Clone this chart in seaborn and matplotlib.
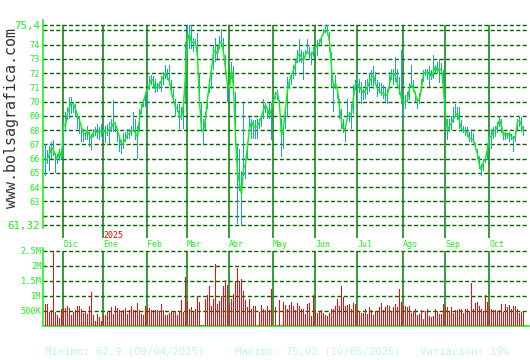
import matplotlib
matplotlib.use("Agg")
import matplotlib.pyplot as plt
import numpy as np
import pandas as pd
import seaborn as sns

# ---------------- data ----------------
close = [
    65.8, 66.0, 66.3, 66.8, 66.6, 66.2, 66.0, 66.5, 66.1, 68.4,
    68.3, 69.2, 69.6, 69.9, 69.8, 69.5, 69.0, 68.7, 68.2, 67.8,
    67.7, 68.0, 67.6, 67.4, 67.9, 67.9, 67.8, 68.0, 67.8, 68.0,
    67.8, 67.9, 68.1, 68.2, 68.5, 68.4, 68.0, 67.5, 67.0, 67.1,
    67.4, 67.7, 67.8, 67.9, 68.0, 67.8, 67.5, 68.8, 69.5, 70.0,
    70.5, 70.8, 71.2, 71.6, 71.4, 70.9, 71.1, 71.2, 71.5, 71.8,
    72.0, 71.7, 71.4, 70.6, 70.1, 69.6, 69.5, 69.0, 68.9, 69.8,
    71.9, 74.3, 74.8, 74.1, 74.2, 74.1, 73.2, 70.0, 68.1, 67.9,
    68.8, 70.2, 71.3, 72.3, 73.5, 73.6, 73.3, 74.1, 74.2, 73.5,
    72.3, 71.2, 70.9, 72.3, 71.0, 67.5, 65.0, 64.3, 63.5, 65.3,
    65.6, 66.9, 68.1, 68.6, 68.3, 68.2, 68.3, 68.6, 69.0, 69.4,
    69.8, 69.5, 69.0, 69.5, 70.0, 70.5, 70.6, 69.8, 67.6, 68.3,
    69.5, 70.8, 71.5, 71.9, 72.2, 72.6, 73.2, 73.4, 73.1, 72.9,
    73.3, 73.5, 73.3, 73.3, 73.5, 73.8, 74.0, 74.1, 74.5, 74.8,
    75.02, 74.9, 74.2, 72.4, 71.0, 71.3, 70.8, 69.6, 68.6, 68.0,
    68.2, 68.9, 69.1, 69.2, 70.3, 71.2, 71.3, 71.0, 70.8, 70.6,
    70.8, 71.0, 71.4, 71.7, 71.8, 71.3, 70.9, 70.7, 70.6, 70.6,
    70.4, 70.5, 71.2, 71.9, 72.0, 71.8, 71.2, 70.8, 70.2, 69.9,
    70.0, 70.1, 71.0, 71.2, 70.9, 70.5, 70.0, 70.2, 70.9, 72.0,
    72.1, 72.0, 72.1, 71.7, 72.1, 72.5, 72.1, 72.3, 72.2, 70.9,
    69.0, 68.0, 68.3, 68.5, 68.8, 69.0, 69.2, 68.6, 68.1, 68.0,
    67.9, 67.8, 67.4, 67.4, 67.3, 66.8, 66.3, 65.5, 65.2, 65.8,
    66.0, 66.7, 67.5, 67.6, 67.9, 68.0, 68.3, 68.7, 68.3, 67.6,
    67.8, 67.6, 67.8, 67.5, 67.4, 67.6, 68.6, 68.7, 68.3, 68.0,
]
high = [
    67.0, 66.6, 66.9, 67.2, 67.3, 66.4, 66.3, 66.7, 66.6, 68.7,
    69.3, 69.6, 70.3, 70.3, 70.0, 69.8, 69.1, 69.0, 68.2, 68.1,
    67.9, 68.3, 67.9, 67.7, 68.1, 68.2, 68.4, 68.2, 68.4, 68.1,
    68.3, 68.4, 68.6, 68.8, 70.1, 68.6, 68.1, 67.6, 67.3, 67.8,
    67.9, 68.1, 68.1, 68.3, 69.3, 68.8, 68.3, 69.5, 69.8, 70.2,
    70.7, 70.9, 71.8, 71.9, 71.8, 71.6, 71.3, 71.4, 71.8, 72.1,
    72.6, 72.3, 72.6, 71.5, 70.9, 70.2, 69.8, 69.8, 69.6, 70.2,
    74.2, 75.4, 75.4, 75.4, 74.5, 74.4, 74.8, 72.0, 70.0, 68.8,
    69.3, 70.4, 71.6, 72.6, 74.0, 74.5, 73.9, 74.6, 75.1, 74.5,
    73.3, 71.3, 71.2, 72.8, 72.5, 70.7, 67.0, 66.7, 65.1, 69.9,
    66.0, 67.2, 68.9, 68.8, 68.7, 68.7, 68.8, 68.8, 69.0, 70.2,
    69.9, 69.5, 69.9, 69.9, 70.5, 70.7, 70.8, 70.1, 68.8, 68.6,
    69.7, 71.7, 71.6, 72.0, 72.6, 72.9, 73.6, 74.4, 73.6, 73.5,
    73.6, 74.4, 73.8, 73.5, 73.8, 73.9, 74.3, 74.4, 74.6, 75.1,
    75.4, 75.4, 74.9, 73.5, 71.2, 71.9, 70.9, 70.2, 69.5, 68.8,
    68.3, 70.2, 69.3, 69.8, 71.2, 71.5, 72.1, 71.6, 71.4, 70.9,
    71.5, 71.6, 72.0, 72.2, 72.5, 72.1, 71.5, 71.4, 71.3, 71.2,
    71.0, 70.9, 72.1, 72.3, 72.3, 73.1, 72.3, 71.7, 73.6, 70.5,
    70.5, 70.7, 71.3, 72.6, 71.5, 70.7, 70.2, 70.6, 71.6, 72.2,
    72.3, 72.3, 72.5, 72.2, 73.3, 72.6, 72.8, 73.0, 72.7, 72.2,
    70.2, 68.8, 68.8, 69.0, 69.6, 69.8, 69.6, 69.6, 68.7, 68.3,
    68.2, 68.2, 67.9, 68.1, 67.8, 67.1, 66.7, 66.2, 65.6, 66.0,
    66.2, 67.1, 67.6, 68.1, 68.2, 68.3, 68.6, 69.0, 68.8, 67.9,
    67.9, 67.8, 67.9, 67.7, 67.6, 67.9, 68.8, 69.0, 68.9, 68.3,
]
low = [
    64.8, 65.6, 65.1, 66.0, 66.2, 65.0, 65.6, 65.8, 65.9, 66.0,
    67.9, 68.7, 68.8, 69.1, 69.2, 68.9, 68.1, 67.7, 67.2, 67.2,
    67.3, 67.3, 66.8, 66.6, 67.5, 67.6, 67.4, 67.3, 67.5, 67.3,
    67.1, 67.6, 67.0, 67.9, 67.9, 67.9, 67.2, 66.5, 66.3, 66.7,
    67.2, 67.4, 67.4, 67.6, 67.9, 67.3, 66.0, 67.9, 69.1, 69.6,
    69.6, 69.5, 70.8, 71.2, 70.9, 70.6, 70.7, 70.9, 70.7, 71.2,
    71.6, 71.5, 71.2, 70.6, 70.0, 69.0, 69.3, 68.1, 68.7, 68.1,
    69.8, 73.5, 73.7, 73.7, 73.5, 73.9, 73.0, 69.6, 67.9, 67.0,
    68.0, 69.5, 70.6, 70.9, 72.2, 72.8, 73.0, 73.7, 73.8, 73.3,
    72.0, 70.0, 70.0, 71.6, 70.9, 67.3, 61.4, 63.7, 61.3, 64.8,
    64.6, 65.9, 67.9, 67.4, 67.4, 67.4, 67.4, 68.1, 68.2, 68.8,
    69.2, 68.8, 68.8, 67.3, 69.8, 70.2, 70.1, 69.5, 66.1, 66.7,
    68.1, 68.9, 70.9, 71.2, 71.6, 71.8, 72.7, 72.8, 72.7, 71.5,
    73.1, 73.4, 73.0, 72.6, 73.1, 73.5, 73.2, 74.0, 74.0, 74.7,
    74.8, 74.7, 73.5, 71.0, 69.3, 70.9, 70.2, 68.8, 68.1, 67.8,
    67.2, 68.8, 68.6, 68.1, 69.1, 70.8, 69.8, 70.6, 69.8, 70.1,
    70.2, 70.5, 70.7, 71.1, 70.9, 71.2, 70.3, 70.6, 70.4, 70.2,
    70.0, 69.8, 70.9, 71.5, 71.2, 71.4, 71.2, 70.5, 69.8, 68.6,
    69.5, 70.0, 70.1, 71.0, 70.7, 70.0, 69.5, 69.8, 70.7, 71.4,
    71.8, 71.5, 71.0, 71.5, 71.6, 72.0, 72.0, 71.3, 72.0, 70.7,
    68.1, 67.3, 67.9, 68.0, 68.5, 68.9, 68.7, 68.1, 67.9, 67.8,
    67.6, 67.5, 67.2, 67.2, 67.1, 66.7, 66.0, 65.3, 64.8, 65.1,
    65.7, 65.9, 66.9, 66.7, 67.4, 67.5, 67.8, 68.2, 67.8, 67.3,
    67.3, 67.4, 67.2, 67.3, 66.5, 67.2, 68.0, 68.2, 67.9, 67.6,
]
volume_k = [
    730, 730, 480, 530, 2500, 450, 380, 270, 550, 590,
    600, 680, 590, 380, 480, 530, 660, 660, 560, 430,
    480, 400, 680, 1120, 380, 150, 400, 290, 180, 380,
    350, 450, 450, 620, 400, 680, 590, 520, 480, 530,
    590, 400, 530, 660, 530, 530, 750, 530, 400, 350,
    660, 590, 590, 520, 520, 520, 520, 450, 730, 520,
    380, 380, 430, 470, 470, 510, 360, 510, 860, 470,
    1630, 830, 580, 620, 470, 580, 990, 800, 40, 40,
    910, 1020, 1320, 660, 910, 2070, 730, 840, 990, 1320,
    1520, 1350, 750, 910, 1060, 1500, 1940, 1500, 1550, 1160,
    880, 620, 910, 580, 660, 660, 40, 470, 690, 550,
    530, 660, 530, 1220, 40, 620, 40, 860, 40, 790,
    690, 550, 690, 790, 660, 530, 750, 660, 580, 580,
    400, 730, 750, 330, 1020, 510, 440, 470, 530, 440,
    360, 330, 440, 580, 550, 660, 910, 660, 1320, 950,
    660, 690, 730, 580, 770, 730, 580, 510, 420, 440,
    580, 400, 620, 530, 360, 510, 470, 640, 750, 530,
    620, 690, 660, 510, 640, 730, 620, 1240, 800, 680,
    680, 620, 680, 440, 510, 580, 360, 400, 530, 220,
    510, 580, 330, 290, 330, 580, 510, 400, 400, 730,
    680, 640, 510, 620, 440, 530, 530, 550, 580, 440,
    580, 550, 510, 1430, 580, 750, 800, 680, 580, 510,
    1020, 800, 660, 580, 530, 530, 470, 530, 730, 470,
    730, 640, 690, 580, 660, 660, 580, 440, 470, 480,
]
month_labels = ["Dic", "Ene", "Feb", "Mar", "Abr", "May", "Jun", "Jul", "Ago", "Sep", "Oct"]
month_start = [9, 29, 51, 71, 92, 114, 135, 156, 179, 200, 222]
year_label = "2025"
year_month = "Ene"
price_grid = [75.4, 75, 74, 73, 72, 71, 70, 69, 68, 67, 66, 65, 64, 63, 62, 61.32]
price_labels = ["75,4", "", "74", "73", "72", "71", "70", "69", "68", "67", "66", "65", "64", "63", "", "61,32"]
vol_grid_k = [500, 1000, 1500, 2000, 2500]
vol_labels = ["500K", "1M", "1.5M", "2M", "2.5M"]
footer_min = "Minimo: 62,9 (09/04/2025)"
footer_max = "Maximo: 75,02 (10/06/2025)"
footer_var = "Variación: 19%"
watermark = "www.bolsagrafica.com"

# ---------------- styling ----------------
sns.set_style("white")
plt.rcParams["font.family"] = ["DejaVu Sans Mono", "DejaVu Sans"]
plt.rcParams["lines.scale_dashes"] = False

W, H = 530, 360
BRIGHT = "#22ee22"
GRID = "#006400"
VLINE = "#008000"
LINE = "#11ee11"
TEAL = "#1aa8b8"
RED = "#e81010"
FOOT = "#c4f0fa"
DASH = (2.9, 1.7)

df = pd.DataFrame({"i": np.arange(len(close)), "close": close, "high": high,
                   "low": low, "vol": np.array(volume_k) * 1000})

fig = plt.figure(figsize=(W / 100, H / 100), dpi=100)
fig.patch.set_facecolor("white")

def fx(px):
    return px / W

def fy(py):
    return 1 - py / H

# x: 2 px per trading day, day 0 centred on pixel column 45
XL = (-1.25, 241.75)

# price panel
ax = fig.add_axes([fx(43), fy(238), fx(486), (238 - 20) / H])
ppu = 14.25
ytop = 75.4 + (24.7 - 20) / ppu
ybot = 61.32 - (238 - 225.3) / ppu
ax.set_ylim(ybot, ytop)
ax.set_xlim(*XL)
ax.set_facecolor("none")

for y in price_grid:
    ax.axhline(y, color=GRID, lw=1.0, dashes=DASH, zorder=1)
for m in month_start:
    ax.vlines(m - 0.5, ybot, 75.4, color=VLINE, lw=1.1, zorder=2)

ax.bar(df["i"], df["high"] - df["low"], bottom=df["low"], width=0.5,
       color=TEAL, linewidth=0, antialiased=False, zorder=3)
sns.lineplot(data=df, x="i", y="close", ax=ax, color=LINE, lw=1.05, zorder=4)

ax.set_xlabel("")
ax.set_ylabel("")
ax.set_xticks([])
ax.set_yticks(price_grid)
ax.set_yticklabels(price_labels)
for t in ax.get_yticklabels():
    t.set_color(BRIGHT)
    t.set_fontsize(7.8 if "," in t.get_text() else 6.2)
ax.tick_params(axis="y", length=0, pad=2.2)
for s in ["top", "right", "bottom"]:
    ax.spines[s].set_visible(False)
ax.spines["left"].set_color(BRIGHT)
ax.spines["left"].set_linewidth(1.2)
ax.spines["left"].set_bounds(61.13, ytop)

# volume panel
axv = fig.add_axes([fx(43), fy(326), fx(486), (326 - 248) / H])
vpm = 30.1
vtop = (326 - 248) / vpm * 1e6
axv.set_ylim(0, vtop)
axv.set_xlim(*XL)
axv.set_facecolor("none")
for v in vol_grid_k:
    axv.axhline(v * 1000, color=GRID, lw=1.0, dashes=DASH, zorder=1)
for m in month_start:
    axv.vlines(m - 0.5, 0, 2.5e6, color=VLINE, lw=1.1, zorder=2)
axv.bar(df["i"], df["vol"], width=0.5, color=RED, linewidth=0,
        antialiased=False, zorder=3)
axv.set_xticks([])
axv.set_yticks([v * 1000 for v in vol_grid_k])
axv.set_yticklabels(vol_labels)
for t in axv.get_yticklabels():
    t.set_color(BRIGHT)
    t.set_fontsize(6.2)
axv.tick_params(axis="y", length=0, pad=1)
for s in ["top", "right"]:
    axv.spines[s].set_visible(False)
for s in ["left", "bottom"]:
    axv.spines[s].set_color(BRIGHT)
    axv.spines[s].set_linewidth(1.2)

# month labels between panels
trans = axv.get_xaxis_transform()
for lab, m in zip(month_labels, month_start):
    axv.text(m - 0.2, (326 - 244.5) / 78, lab, transform=trans, ha="left", va="center",
             color=BRIGHT, fontsize=6.0, clip_on=False)
    if lab == year_month:
        axv.text(m - 0.2, (326 - 236) / 78, year_label, transform=trans, ha="left",
                 va="center", color="#e00000", fontsize=6.0, clip_on=False)

# watermark
fig.text(fx(12), fy(118), watermark, rotation=90, ha="center", va="center",
         fontsize=10.8, color="#333333")

# footer
fig.text(fx(45), fy(352), footer_min, ha="left", va="center", fontsize=7.7, color=FOOT)
fig.text(fx(235), fy(352), footer_max, ha="left", va="center", fontsize=7.7, color=FOOT)
fig.text(fx(420), fy(352), footer_var, ha="left", va="center", fontsize=7.7, color=FOOT)

fig.savefig("out.png", dpi=100, facecolor="white")
